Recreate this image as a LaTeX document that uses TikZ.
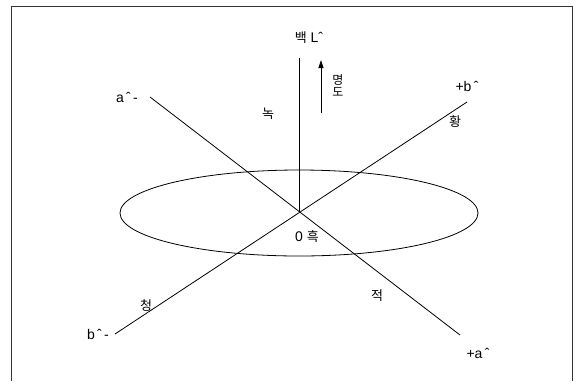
\documentclass[tikz,border=0pt]{standalone}
\usepackage{fontspec}
\setmainfont{Liberation Sans}
\newfontfamily\krfont{Noto Sans CJK KR}
\usetikzlibrary{arrows.meta}

\begin{document}
\begin{tikzpicture}[
    x=1pt, y=-1pt,
    font=\fontsize{14}{15}\selectfont,
    axis/.style={black, line width=0.8pt},
    lbl/.style={inner sep=1pt, text=black},
    kr/.style={lbl, font=\fontsize{13}{14}\selectfont\krfont},
    up/.style={-{Triangle[length=8pt,width=5pt]}, black, line width=0.8pt},
  ]
  \useasboundingbox (0,0) rectangle (577,381);

  % ---- frame (open at the bottom) ----------------------------------------
  \draw[line width=1pt, black!80] (11,381) -- (11,6) -- (572,6) -- (572,381);

  % ---- centre, axis ends --------------------------------------------------
  \coordinate (o) at (299,212);
  \coordinate (Ltop) at (299,58);
  \coordinate (aneg) at (150,97);
  \coordinate (apos) at (460,335);
  \coordinate (bneg) at (115,334);
  \coordinate (bpos) at (467,102);

  % ---- chroma ellipse -----------------------------------------------------
  \draw[axis] (299,213) ellipse [x radius=179, y radius=43];

  % ---- axes ---------------------------------------------------------------
  \draw[axis] (o) -- (Ltop);
  \draw[axis] (aneg) -- (apos);
  \draw[axis] (bneg) -- (bpos);

  % ---- lightness arrow ----------------------------------------------------
  \coordinate (arrlo) at (321,113);
  \coordinate (arrhi) at (321,60);
  \draw[up] (arrlo) -- (arrhi);
  \node[kr, align=center, font=\fontsize{12}{12}\selectfont\krfont]
       (myeongdo) at (338,86) {명\\도};

  % ---- axis labels --------------------------------------------------------
  \node[lbl] (white) at (309,38) {{\krfont\fontsize{13}{14}\selectfont 백} Lˆ};
  \node[lbl] (amin) at (127,97) {a\,ˆ\,-};
  \node[lbl] (bplus) at (467,86) {+b\,ˆ};
  \node[lbl] (bmin) at (98,334) {b\,ˆ\,-};
  \node[lbl] (aplus) at (478,353) {+a\,ˆ};
  \node[lbl] (black) at (307,237) {0 {\krfont\fontsize{13}{14}\selectfont 흑}};

  % ---- hue labels ---------------------------------------------------------
  \node[kr] (green) at (268,114) {녹};
  \node[kr] (yellow) at (455,122) {황};
  \node[kr] (blue) at (146,306) {청};
  \node[kr] (red) at (377,296) {적};

\end{tikzpicture}
\end{document}
